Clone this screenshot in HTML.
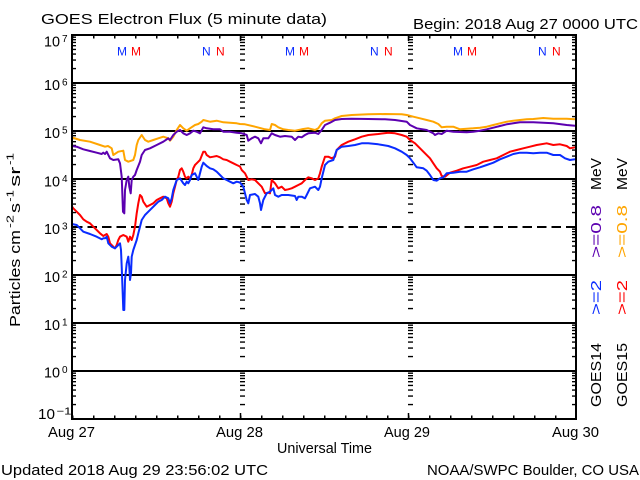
<!DOCTYPE html>
<html><head><meta charset="utf-8"><style>
html,body{margin:0;padding:0;background:#fff;}
svg{display:block;}
text{font-family:"Liberation Sans",sans-serif;}
</style></head><body>
<svg width="640" height="480" viewBox="0 0 640 480" xmlns="http://www.w3.org/2000/svg">
<defs>
<pattern id="lt" patternUnits="userSpaceOnUse" x="0" y="35" width="640" height="48">
<path d="M0,2.2H640M0,4.65H640M0,7.44H640M0,10.65H640M0,14.45H640M0,19.1H640M0,25.1H640M0,33.55H640" stroke="#000" stroke-width="1.4" fill="none"/>
</pattern>
<pattern id="tt" patternUnits="userSpaceOnUse" x="72" y="0" width="21" height="480">
<path d="M0.75,0V480" stroke="#000" stroke-width="1.5"/>
</pattern>
</defs>
<rect width="640" height="480" fill="#fff"/>

<!-- grid lines -->
<g stroke="#000" stroke-width="2">
<line x1="72" y1="83" x2="576" y2="83"/>
<line x1="72" y1="131" x2="576" y2="131"/>
<line x1="72" y1="179" x2="576" y2="179"/>
<line x1="72" y1="275" x2="576" y2="275"/>
<line x1="72" y1="323" x2="576" y2="323"/>
<line x1="72" y1="371" x2="576" y2="371"/>
<line x1="73" y1="227" x2="576" y2="227" stroke-dasharray="9.5 5"/>
</g>

<!-- log minor ticks -->
<rect x="72" y="35" width="4" height="384" fill="url(#lt)"/>
<rect x="572" y="35" width="4" height="384" fill="url(#lt)"/>
<rect x="240" y="35" width="5" height="384" fill="url(#lt)"/>
<rect x="408" y="35" width="5" height="384" fill="url(#lt)"/>

<!-- time ticks -->
<rect x="72" y="35" width="504" height="3.5" fill="url(#tt)"/>
<rect x="72" y="415.5" width="504" height="3.5" fill="url(#tt)"/>
<g stroke="#000" stroke-width="1.5">
<line x1="240.5" y1="413" x2="240.5" y2="419"/>
<line x1="408.5" y1="413" x2="408.5" y2="419"/>
<line x1="240.5" y1="35" x2="240.5" y2="41"/>
<line x1="408.5" y1="35" x2="408.5" y2="41"/>
</g>

<!-- data -->
<g fill="none" stroke-width="2" stroke-linejoin="round">
<polyline stroke="#ffa500" points="72,137.5 80,140 90,141.7 100,145 105,146.7 108,146 111.7,148.3 113.3,155 118.3,151.7 123.3,150.7 125,160 128.3,161.7 133.3,160 135,155 136.7,145 138.3,140 141.7,135 145,140 148.3,141.7 153.3,140 158.3,138.3 163.3,136.7 168.3,138.3 170,140.7 173.3,136.7 176.7,130 180,125 183.3,128.3 186.7,130.7 190,128.3 195,125 198.3,124 201.7,121.7 203.3,120 210,121.7 216.7,120.7 223.3,122.3 230,122.7 236.7,123.3 240,124 245,124.3 255,126.7 265,129.3 270,130 271.7,124 275,125 278.3,127.3 283.3,129.3 288.3,130 295,130.7 301.7,129.3 308.3,128.3 315,130 318.3,128.3 321.7,123.3 325,120.7 331.7,120 335,118.3 341.7,116 351.7,115 368.3,114.3 385,114 401.7,114.3 406.7,115 413.3,116.7 420,118.3 426.7,120 433.3,121.7 438.3,124 441.7,127.3 446.7,126.7 453.3,126.7 460,129.3 466.7,128.7 473.3,128.3 480,127.7 486.7,126.7 493.3,125 500,123.3 506.7,121.7 513.3,120.7 520,120 526.7,119.3 533.3,119 543.3,118 553.3,118.7 566.7,118.7 575,119.3"/>
<polyline stroke="#5c00b0" points="72,146 76.7,146.7 83.3,149.3 90,151 96.7,152.7 101.7,154 103.3,152.7 105,154 106.7,151.7 110,158.3 113.3,160 118.3,159.3 120,163.3 121.7,176.7 123,211.7 124.3,213.3 125,190 126.7,180 128.3,176.7 129.3,186.7 130.7,193.3 131.7,180 133.3,176.7 135,175 136.7,170 138.3,166 140,161.7 141.7,155 145,150 150,148.3 156.7,145 163.3,141.7 168.3,138.3 170,140 173.3,135 176.7,131.7 180,130 183.3,133.3 186.7,135 190,133.3 193.3,130.7 196.7,131.7 200,133.3 203.3,127.3 206.7,128.3 213.3,129.3 220,129.3 223.3,131.7 230,131.7 236.7,132.7 241.7,133.3 246.7,135 248.3,140.7 251.7,138.3 255,136.7 258.3,138.3 261,143.3 263.3,138.3 268.3,138.3 271.7,133.3 275,135 280,136.7 285,136 291.7,136.7 295,140 298.3,136.7 301.7,137.3 305,135 308.3,133.3 315,132.7 318.3,134 321.7,130 325,125 330,122.7 335,120 341.7,119 351.7,118.7 368.3,119 385,119.3 395,120 401.7,121 406.7,121.7 410,125 416.7,128.3 426.7,130 433.3,133.3 435,135 438.3,133.3 441.7,134 446.7,130.7 453.3,131.7 466.7,132.3 473.3,131.7 480,130.7 486.7,129.3 493.3,127.7 500,126 506.7,124.3 513.3,123.3 520,122.3 533.3,122.3 543.3,122.7 553.3,123.3 566.7,125 575,125.7"/>
<polyline stroke="#ff0000" points="72,206.5 73.3,208.3 76.7,211.7 80,215 83.3,219.3 86.7,221.7 90,223.3 93.3,226.7 96.7,230 100,233.3 103.3,236 106.7,234 108.3,236.7 110,243.3 113.3,246.7 115,248.3 116.7,245 118.3,240 120,236.7 123.3,235 126.7,236.7 128.3,241.7 130,236.7 131.7,240 133.3,235 135,226.7 136.7,213.3 138.3,203.3 140,195 141.7,196.7 143.3,201.7 146.7,206.7 150,205 153.3,203.3 156.7,200 160,198.3 163.3,196.7 166.7,198.3 168.3,203.3 170,206.7 171.7,201.7 173.3,193.3 175,186.7 176.7,180 178.3,176.7 180,170 181.7,168.3 183.3,171.7 185,176.7 186.7,178.3 188.3,176.7 190,178.3 191.7,175 193.3,168.3 195,165 196.7,163.3 198.3,161.7 200,160 203.3,151.7 205,151.7 206.7,155 210,157.3 213.3,156.7 216.7,156 220,157.3 223.3,159.3 226.7,160 230,161.7 233.3,163.3 236.7,165 240,166.5 241.7,170 245,173.3 248.3,180 251.7,179.3 255,180 258.3,183.3 261.7,186.7 265,193.3 268.3,192.7 270,193.3 271.7,180 275,183.3 278.3,188.3 281.7,186.7 285,190 288.3,189.3 291.7,188.3 295,186.7 298.3,185 301.7,183.3 305,180 308.3,177.3 311.7,178.3 315,180 318.3,178.3 320,173.3 321.7,166.7 325,156.7 328.3,156.7 331.7,158.3 335,156.7 336.7,150 341.7,145 348.3,141.7 355,139.3 361.7,136.7 368.3,135 378.3,134 388.3,132.7 395,133.3 401.7,135 406.7,136.7 410,140 415,143.3 420,148.3 425,153.3 430,158.3 433.3,163.3 436.7,168.3 440,171.7 441.7,176 445,176.7 450,172.7 456.7,170.7 463.3,168.3 470,166.7 476.7,165 483.3,161.7 490,160 496.7,158.3 503.3,155 510,151.7 516.7,150 523.3,148.3 530,146.7 536.7,145 546.7,143.3 553.3,145 560,144.3 566.7,146 570,148.3 575,147.3"/>
<polyline stroke="#0a2cff" points="72,224 76.7,225 80,228.3 83.3,231.7 90,234 96.7,236.7 101.7,239.3 103.3,238.3 105,238.3 106.7,236.7 108.3,243.3 111.7,246.7 115,248.3 118.3,245 120,243.3 121,250 121.7,266.7 122.7,293.3 123.3,310 124.3,310 125,280 126.7,263.3 128.3,256.7 129.3,266.7 130,280 131,273.3 131.7,256.7 133.3,250 135,245 136.7,240 138.3,233.3 140,226.7 141.7,220 145,215 148.3,211.7 151.7,208.3 155,205 158.3,201.7 161.7,200 165,196.7 168.3,198.3 170,203.3 171.7,198.3 173.3,190 176.7,180 180,178.3 183.3,183.3 185,185 186.7,181.7 188.3,183.3 190,180 191.7,175 195,173.3 198.3,180 200,173.3 201.7,166.7 203.3,162.7 206.7,166 210,168.3 213.3,169.3 216.7,171.7 220,175 223.3,178.3 226.7,180 230,181.7 233.3,183.3 236.7,181.7 240,182.5 243.3,186.7 246.7,200 248.3,203.3 250,195 255,194 258.3,196.7 260,203.3 261,210 263.3,200 266.7,193.3 270,191.7 273.3,188.3 275,195 278.3,196.7 281.7,195 288.3,195 295,196 296.7,200 298.3,196.7 301.7,196.7 305,198.3 306.7,195 310,188.3 315,186.7 318.3,190 320,186.7 321.7,178.3 325,165 328.3,161.7 333.3,160 336.7,150 341.7,146.7 348.3,146 355,145 361.7,143.3 368.3,143.3 378.3,144.3 388.3,146 395,148.3 401.7,151.7 406.7,155 410,158.3 413.3,162.7 416.7,167.3 423.3,168.3 426.7,170.7 430,175 433.3,180 436.7,180.7 440,178.3 443.3,177.3 446.7,173.3 453.3,172.7 460,171.7 466.7,171.7 473.3,169.3 480,167.3 486.7,165 493.3,162.7 500,159.3 506.7,156.7 513.3,154 520,152.7 526.7,152.7 533.3,153.3 540,152.7 546.7,152.7 553.3,155 560,155 565,158.3 570,160 575,159.3"/>
</g>

<!-- frame -->
<rect x="72" y="35" width="504" height="384" fill="none" stroke="#000" stroke-width="2"/>

<!-- M / N markers -->
<g font-size="12">
<text x="117" y="55.5" fill="#0a2cff">M</text><text x="131" y="55.5" fill="#ff0000">M</text>
<text x="202" y="55.5" fill="#0a2cff">N</text><text x="216" y="55.5" fill="#ff0000">N</text>
<text x="285" y="55.5" fill="#0a2cff">M</text><text x="299" y="55.5" fill="#ff0000">M</text>
<text x="370" y="55.5" fill="#0a2cff">N</text><text x="384" y="55.5" fill="#ff0000">N</text>
<text x="453" y="55.5" fill="#0a2cff">M</text><text x="467" y="55.5" fill="#ff0000">M</text>
<text x="538" y="55.5" fill="#0a2cff">N</text><text x="552" y="55.5" fill="#ff0000">N</text>
</g>

<!-- titles -->
<g font-size="15" fill="#000">
<text x="41" y="24" textLength="286" lengthAdjust="spacingAndGlyphs">GOES Electron Flux (5 minute data)</text>
<text x="413" y="29" textLength="225" lengthAdjust="spacingAndGlyphs">Begin: 2018 Aug 27 0000 UTC</text>
<text x="1" y="475" textLength="267" lengthAdjust="spacingAndGlyphs">Updated 2018 Aug 29 23:56:02 UTC</text>
<text x="427" y="475" textLength="212" lengthAdjust="spacingAndGlyphs">NOAA/SWPC Boulder, CO USA</text>
<text x="277" y="453" textLength="95" lengthAdjust="spacingAndGlyphs">Universal Time</text>
<text x="48" y="437" textLength="47" lengthAdjust="spacingAndGlyphs">Aug 27</text>
<text x="216" y="437" textLength="47" lengthAdjust="spacingAndGlyphs">Aug 28</text>
<text x="384" y="437" textLength="46" lengthAdjust="spacingAndGlyphs">Aug 29</text>
<text x="552" y="437" textLength="47" lengthAdjust="spacingAndGlyphs">Aug 30</text>
</g>

<!-- y tick labels -->
<g fill="#000">
<g font-size="15">
<text x="44" y="46.5" textLength="16" lengthAdjust="spacingAndGlyphs">10</text>
<text x="44" y="90" textLength="16" lengthAdjust="spacingAndGlyphs">10</text>
<text x="44" y="138" textLength="16" lengthAdjust="spacingAndGlyphs">10</text>
<text x="44" y="186.5" textLength="16" lengthAdjust="spacingAndGlyphs">10</text>
<text x="44" y="234" textLength="16" lengthAdjust="spacingAndGlyphs">10</text>
<text x="44" y="282" textLength="16" lengthAdjust="spacingAndGlyphs">10</text>
<text x="44" y="330" textLength="16" lengthAdjust="spacingAndGlyphs">10</text>
<text x="44" y="377.5" textLength="16" lengthAdjust="spacingAndGlyphs">10</text>
<text x="38" y="419" textLength="17" lengthAdjust="spacingAndGlyphs">10</text>
</g>
<g font-size="10">
<text x="62" y="42">7</text>
<text x="62" y="85.5">6</text>
<text x="62" y="133.5">5</text>
<text x="62" y="182">4</text>
<text x="62" y="229.5">3</text>
<text x="62" y="277.5">2</text>
<text x="62" y="325.5">1</text>
<text x="62" y="373">0</text>
<text x="56.5" y="414.5" textLength="15" lengthAdjust="spacingAndGlyphs">−1</text>
</g>
</g>

<!-- y axis label -->
<g fill="#000">
<text font-size="15" transform="translate(20,327) rotate(-90)" textLength="97" lengthAdjust="spacingAndGlyphs">Particles cm</text>
<text font-size="10" transform="translate(13.5,228) rotate(-90)" textLength="13" lengthAdjust="spacingAndGlyphs">-2</text>
<text font-size="15" transform="translate(20,213) rotate(-90)" textLength="10" lengthAdjust="spacingAndGlyphs">s</text>
<text font-size="10" transform="translate(13.5,201.7) rotate(-90)" textLength="11.7" lengthAdjust="spacingAndGlyphs">-1</text>
<text font-size="15" transform="translate(20,186.7) rotate(-90)" textLength="20" lengthAdjust="spacingAndGlyphs">sr</text>
<text font-size="10" transform="translate(13.5,165) rotate(-90)" textLength="12" lengthAdjust="spacingAndGlyphs">-1</text>
</g>

<!-- right legend -->
<g font-size="15">
<text fill="#000" transform="translate(601,190) rotate(-90)" textLength="32" lengthAdjust="spacingAndGlyphs">MeV</text>
<text fill="#5c00b0" transform="translate(601,258) rotate(-90)" textLength="53" lengthAdjust="spacingAndGlyphs">&gt;=0.8</text>
<text fill="#0a2cff" transform="translate(601,315) rotate(-90)" textLength="35" lengthAdjust="spacingAndGlyphs">&gt;=2</text>
<text fill="#000" transform="translate(601,407) rotate(-90)" textLength="64" lengthAdjust="spacingAndGlyphs">GOES14</text>
<text fill="#000" transform="translate(627,190) rotate(-90)" textLength="32" lengthAdjust="spacingAndGlyphs">MeV</text>
<text fill="#ffa500" transform="translate(627,258) rotate(-90)" textLength="53" lengthAdjust="spacingAndGlyphs">&gt;=0.8</text>
<text fill="#ff0000" transform="translate(627,315) rotate(-90)" textLength="35" lengthAdjust="spacingAndGlyphs">&gt;=2</text>
<text fill="#000" transform="translate(627,407) rotate(-90)" textLength="64" lengthAdjust="spacingAndGlyphs">GOES15</text>
</g>
</svg>
</body></html>
